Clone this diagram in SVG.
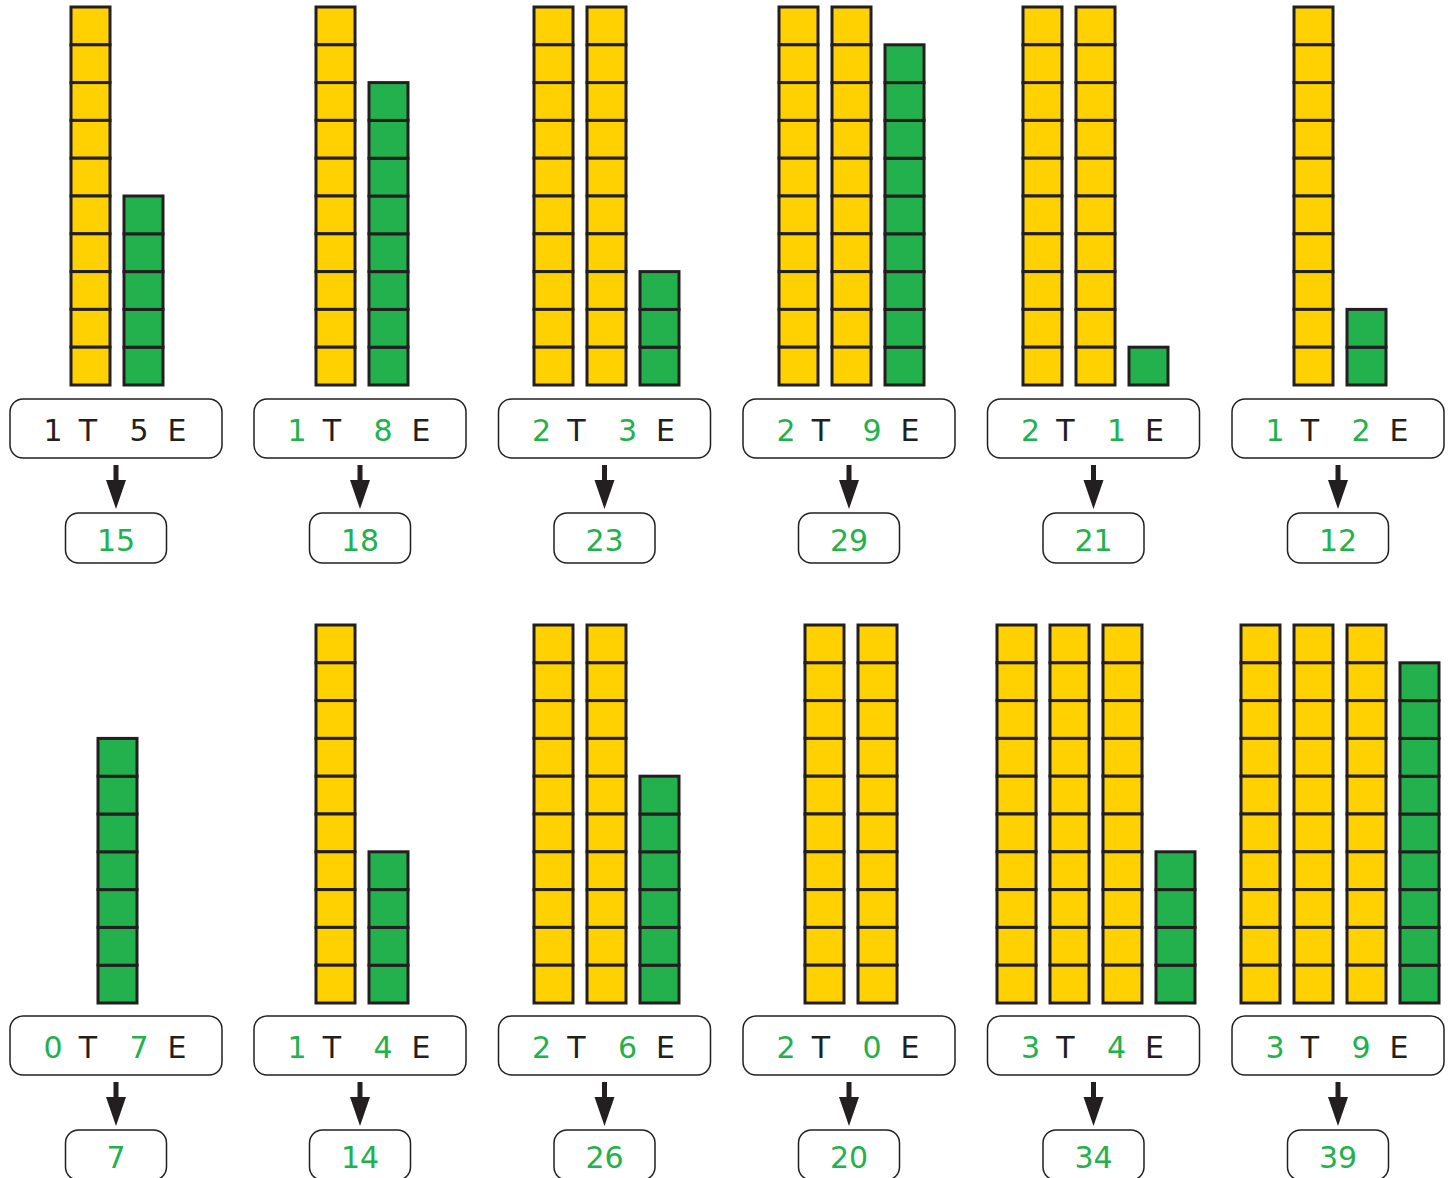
<svg xmlns="http://www.w3.org/2000/svg" xmlns:xlink="http://www.w3.org/1999/xlink" width="1453" height="1178" viewBox="0 0 1453 1178">
<style>
.yc{fill:#FFD100;stroke:#231F20;stroke-width:3}
.gc{fill:#23B14D;stroke:#231F20;stroke-width:3}
.box{fill:#fff;stroke:#231F20;stroke-width:1.5}
.lbl{font-family:"DejaVu Sans","Liberation Sans",sans-serif;font-size:30px;text-anchor:middle;fill:#231F20}
.g{fill:#23B14D}
.ans{font-family:"DejaVu Sans","Liberation Sans",sans-serif;font-size:30px;text-anchor:middle;fill:#23B14D}
.arr{fill:#231F20}
</style>
<defs>
<rect id="y" class="yc" x="0" y="0" width="39" height="37.8"/>
<rect id="gq" class="gc" x="0" y="0" width="39" height="37.8"/>
<g id="ten">
<use href="#y" y="0"/><use href="#y" y="37.8"/><use href="#y" y="75.6"/><use href="#y" y="113.4"/><use href="#y" y="151.2"/>
<use href="#y" y="189"/><use href="#y" y="226.8"/><use href="#y" y="264.6"/><use href="#y" y="302.4"/><use href="#y" y="340.2"/>
</g>
</defs>
<rect width="1453" height="1178" fill="#fff"/>

<g id="panel-15">
<use href="#ten" x="71" y="7"/>
<use href="#gq" x="124" y="347.2"/><use href="#gq" x="124" y="309.4"/><use href="#gq" x="124" y="271.6"/><use href="#gq" x="124" y="233.8"/><use href="#gq" x="124" y="196"/>
<rect class="box" x="10" y="399" width="212" height="59" rx="13"/>
<text class="lbl" y="441"><tspan x="53">1</tspan><tspan x="88">T</tspan><tspan x="139">5</tspan><tspan x="177">E</tspan></text>
<rect class="box" x="65.5" y="513" width="101" height="50" rx="13"/>
<text class="ans" x="116" y="551">15</text>
</g>

<g id="panel-18">
<use href="#ten" x="316" y="7"/>
<use href="#gq" x="369" y="347.2"/><use href="#gq" x="369" y="309.4"/><use href="#gq" x="369" y="271.6"/><use href="#gq" x="369" y="233.8"/><use href="#gq" x="369" y="196"/><use href="#gq" x="369" y="158.2"/><use href="#gq" x="369" y="120.4"/><use href="#gq" x="369" y="82.6"/>
<rect class="box" x="254" y="399" width="212" height="59" rx="13"/>
<text class="lbl" y="441"><tspan class="g" x="297">1</tspan><tspan x="332">T</tspan><tspan class="g" x="383">8</tspan><tspan x="421">E</tspan></text>
<rect class="box" x="309.5" y="513" width="101" height="50" rx="13"/>
<text class="ans" x="360" y="551">18</text>
</g>

<g id="panel-23">
<use href="#ten" x="534" y="7"/><use href="#ten" x="587" y="7"/>
<use href="#gq" x="640" y="347.2"/><use href="#gq" x="640" y="309.4"/><use href="#gq" x="640" y="271.6"/>
<rect class="box" x="498.5" y="399" width="212" height="59" rx="13"/>
<text class="lbl" y="441"><tspan class="g" x="541.5">2</tspan><tspan x="576.5">T</tspan><tspan class="g" x="627.5">3</tspan><tspan x="665.5">E</tspan></text>
<rect class="box" x="554" y="513" width="101" height="50" rx="13"/>
<text class="ans" x="604.5" y="551">23</text>
</g>

<g id="panel-29">
<use href="#ten" x="779" y="7"/><use href="#ten" x="832" y="7"/>
<use href="#gq" x="885" y="347.2"/><use href="#gq" x="885" y="309.4"/><use href="#gq" x="885" y="271.6"/><use href="#gq" x="885" y="233.8"/><use href="#gq" x="885" y="196"/><use href="#gq" x="885" y="158.2"/><use href="#gq" x="885" y="120.4"/><use href="#gq" x="885" y="82.6"/><use href="#gq" x="885" y="44.8"/>
<rect class="box" x="743" y="399" width="212" height="59" rx="13"/>
<text class="lbl" y="441"><tspan class="g" x="786">2</tspan><tspan x="821">T</tspan><tspan class="g" x="872">9</tspan><tspan x="910">E</tspan></text>
<rect class="box" x="798.5" y="513" width="101" height="50" rx="13"/>
<text class="ans" x="849" y="551">29</text>
</g>

<g id="panel-21">
<use href="#ten" x="1023" y="7"/><use href="#ten" x="1076" y="7"/>
<use href="#gq" x="1129" y="347.2"/>
<rect class="box" x="987.5" y="399" width="212" height="59" rx="13"/>
<text class="lbl" y="441"><tspan class="g" x="1030.5">2</tspan><tspan x="1065.5">T</tspan><tspan class="g" x="1116.5">1</tspan><tspan x="1154.5">E</tspan></text>
<rect class="box" x="1043" y="513" width="101" height="50" rx="13"/>
<text class="ans" x="1093.5" y="551">21</text>
</g>

<g id="panel-12">
<use href="#ten" x="1294" y="7"/>
<use href="#gq" x="1347" y="347.2"/><use href="#gq" x="1347" y="309.4"/>
<rect class="box" x="1232" y="399" width="212" height="59" rx="13"/>
<text class="lbl" y="441"><tspan class="g" x="1275">1</tspan><tspan x="1310">T</tspan><tspan class="g" x="1361">2</tspan><tspan x="1399">E</tspan></text>
<rect class="box" x="1287.5" y="513" width="101" height="50" rx="13"/>
<text class="ans" x="1338" y="551">12</text>
</g>

<g id="panel-7">
<use href="#gq" x="98" y="965.2"/><use href="#gq" x="98" y="927.4"/><use href="#gq" x="98" y="889.6"/><use href="#gq" x="98" y="851.8"/><use href="#gq" x="98" y="814"/><use href="#gq" x="98" y="776.2"/><use href="#gq" x="98" y="738.4"/>
<rect class="box" x="10" y="1016" width="212" height="59" rx="13"/>
<text class="lbl" y="1058"><tspan class="g" x="53">0</tspan><tspan x="88">T</tspan><tspan class="g" x="139">7</tspan><tspan x="177">E</tspan></text>
<rect class="box" x="65.5" y="1130" width="101" height="50" rx="13"/>
<text class="ans" x="116" y="1168">7</text>
</g>

<g id="panel-14">
<use href="#ten" x="316" y="625"/>
<use href="#gq" x="369" y="965.2"/><use href="#gq" x="369" y="927.4"/><use href="#gq" x="369" y="889.6"/><use href="#gq" x="369" y="851.8"/>
<rect class="box" x="254" y="1016" width="212" height="59" rx="13"/>
<text class="lbl" y="1058"><tspan class="g" x="297">1</tspan><tspan x="332">T</tspan><tspan class="g" x="383">4</tspan><tspan x="421">E</tspan></text>
<rect class="box" x="309.5" y="1130" width="101" height="50" rx="13"/>
<text class="ans" x="360" y="1168">14</text>
</g>

<g id="panel-26">
<use href="#ten" x="534" y="625"/><use href="#ten" x="587" y="625"/>
<use href="#gq" x="640" y="965.2"/><use href="#gq" x="640" y="927.4"/><use href="#gq" x="640" y="889.6"/><use href="#gq" x="640" y="851.8"/><use href="#gq" x="640" y="814"/><use href="#gq" x="640" y="776.2"/>
<rect class="box" x="498.5" y="1016" width="212" height="59" rx="13"/>
<text class="lbl" y="1058"><tspan class="g" x="541.5">2</tspan><tspan x="576.5">T</tspan><tspan class="g" x="627.5">6</tspan><tspan x="665.5">E</tspan></text>
<rect class="box" x="554" y="1130" width="101" height="50" rx="13"/>
<text class="ans" x="604.5" y="1168">26</text>
</g>

<g id="panel-20">
<use href="#ten" x="805" y="625"/><use href="#ten" x="858" y="625"/>
<rect class="box" x="743" y="1016" width="212" height="59" rx="13"/>
<text class="lbl" y="1058"><tspan class="g" x="786">2</tspan><tspan x="821">T</tspan><tspan class="g" x="872">0</tspan><tspan x="910">E</tspan></text>
<rect class="box" x="798.5" y="1130" width="101" height="50" rx="13"/>
<text class="ans" x="849" y="1168">20</text>
</g>

<g id="panel-34">
<use href="#ten" x="997" y="625"/><use href="#ten" x="1050" y="625"/><use href="#ten" x="1103" y="625"/>
<use href="#gq" x="1156" y="965.2"/><use href="#gq" x="1156" y="927.4"/><use href="#gq" x="1156" y="889.6"/><use href="#gq" x="1156" y="851.8"/>
<rect class="box" x="987.5" y="1016" width="212" height="59" rx="13"/>
<text class="lbl" y="1058"><tspan class="g" x="1030.5">3</tspan><tspan x="1065.5">T</tspan><tspan class="g" x="1116.5">4</tspan><tspan x="1154.5">E</tspan></text>
<rect class="box" x="1043" y="1130" width="101" height="50" rx="13"/>
<text class="ans" x="1093.5" y="1168">34</text>
</g>

<g id="panel-39">
<use href="#ten" x="1241" y="625"/><use href="#ten" x="1294" y="625"/><use href="#ten" x="1347" y="625"/>
<use href="#gq" x="1400" y="965.2"/><use href="#gq" x="1400" y="927.4"/><use href="#gq" x="1400" y="889.6"/><use href="#gq" x="1400" y="851.8"/><use href="#gq" x="1400" y="814"/><use href="#gq" x="1400" y="776.2"/><use href="#gq" x="1400" y="738.4"/><use href="#gq" x="1400" y="700.6"/><use href="#gq" x="1400" y="662.8"/>
<rect class="box" x="1232" y="1016" width="212" height="59" rx="13"/>
<text class="lbl" y="1058"><tspan class="g" x="1275">3</tspan><tspan x="1310">T</tspan><tspan class="g" x="1361">9</tspan><tspan x="1399">E</tspan></text>
<rect class="box" x="1287.5" y="1130" width="101" height="50" rx="13"/>
<text class="ans" x="1338" y="1168">39</text>
</g>

<g id="connectors" class="arr">
<path d="M113.5 465h5v15h7.5l-10 29l-10-29h7.5z"/>
<path d="M357.5 465h5v15h7.5l-10 29l-10-29h7.5z"/>
<path d="M602 465h5v15h7.5l-10 29l-10-29h7.5z"/>
<path d="M846.5 465h5v15h7.5l-10 29l-10-29h7.5z"/>
<path d="M1091 465h5v15h7.5l-10 29l-10-29h7.5z"/>
<path d="M1335.5 465h5v15h7.5l-10 29l-10-29h7.5z"/>
<path d="M113.5 1082h5v15h7.5l-10 29l-10-29h7.5z"/>
<path d="M357.5 1082h5v15h7.5l-10 29l-10-29h7.5z"/>
<path d="M602 1082h5v15h7.5l-10 29l-10-29h7.5z"/>
<path d="M846.5 1082h5v15h7.5l-10 29l-10-29h7.5z"/>
<path d="M1091 1082h5v15h7.5l-10 29l-10-29h7.5z"/>
<path d="M1335.5 1082h5v15h7.5l-10 29l-10-29h7.5z"/>
</g>
</svg>
